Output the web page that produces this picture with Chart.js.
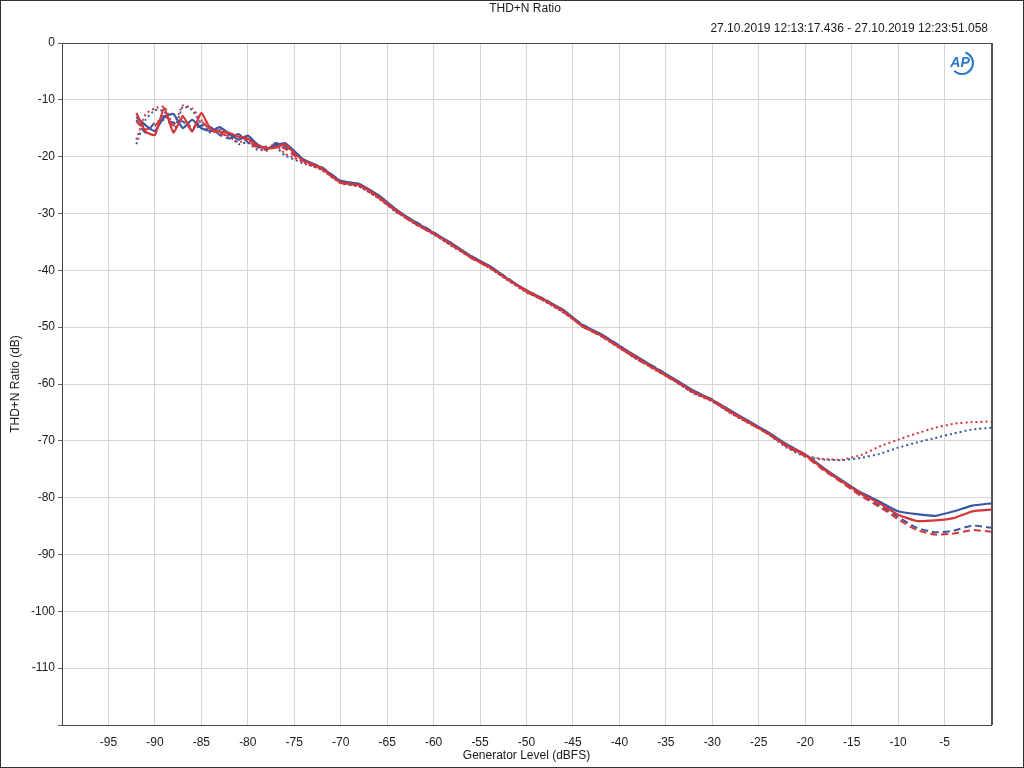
<!DOCTYPE html>
<html>
<head>
<meta charset="utf-8">
<script src="https://cdn.jsdelivr.net/npm/chart.js@4/dist/chart.umd.min.js"></script>
<style>
  body { margin: 0; background: #fff; }
  #wrap { width: 1024px; height: 768px; }
</style>
</head>
<body>
<div id="wrap"><canvas id="myChart" width="1024" height="768"></canvas></div>
<script>
// generator levels (dBFS)
var levels = [-92,-91,-90,-89,-88,-87,-86,-85,-84,-83,-82,-81,-80,-79,-78,-77,-76,-75,-74,
  -72,-70,-68,-66,-64,-62,-60,-58,-56,-54,-52,-50,-48,-46,-44,-42,-40,-38,-36,-34,-32,-30,-28,-26,-24,
  -22,-20,-18,-16,-14,-12,-10,-8,-6,-4,-2,0];

// THD+N ratio (dB)
var blueSolid = [-13.0,-14.5,-15.5,-13.0,-12.5,-15.0,-13.5,-15.0,-15.5,-14.8,-16.0,-17.0,-16.3,-17.8,-18.6,-18.0,-17.6,-19.0,-20.5,
  -22.0,-24.3,-24.8,-26.7,-29.3,-31.5,-33.4,-35.3,-37.5,-39.2,-41.5,-43.5,-45.2,-47.0,-49.6,-51.2,-53.3,-55.3,-57.3,-59.2,-61.2,-62.8,-64.7,-66.6,-68.5,
  -70.6,-72.4,-74.8,-77.0,-79.1,-80.7,-82.4,-82.9,-83.2,-82.4,-81.4,-81.0];
var redSolid = [-12.3,-15.6,-16.2,-11.4,-15.8,-12.8,-15.6,-12.3,-15.2,-15.6,-15.8,-16.5,-16.8,-18.0,-18.5,-18.4,-17.8,-19.4,-20.7,
  -22.1,-24.5,-25.0,-27.0,-29.5,-31.7,-33.5,-35.5,-37.7,-39.4,-41.6,-43.6,-45.3,-47.2,-49.8,-51.4,-53.5,-55.5,-57.5,-59.4,-61.4,-62.9,-64.9,-66.8,-68.7,
  -70.8,-72.5,-75.0,-77.2,-79.3,-81.0,-83.0,-84.1,-84.0,-83.6,-82.4,-82.1];
var blueDashed = [-13.5,-15.8,-14.0,-13.5,-14.0,-13.8,-15.3,-14.5,-14.8,-16.2,-16.8,-16.0,-17.5,-18.2,-18.8,-17.6,-18.2,-19.6,-20.6,
  -21.9,-24.2,-24.9,-26.8,-29.6,-31.4,-33.3,-35.6,-37.4,-39.3,-41.4,-43.7,-45.1,-47.3,-49.5,-51.3,-53.2,-55.6,-57.2,-59.3,-61.5,-62.7,-64.9,-66.7,-68.7,
  -70.9,-72.6,-75.0,-77.3,-79.6,-81.4,-83.4,-85.3,-86.1,-85.8,-84.9,-85.3];
var redDashed = [-13.8,-15.2,-14.6,-12.8,-14.5,-13.2,-15.0,-13.8,-15.4,-15.9,-16.4,-16.3,-17.2,-18.4,-18.2,-17.9,-18.6,-19.8,-20.8,
  -22.2,-24.6,-25.1,-27.1,-29.7,-31.8,-33.6,-35.4,-37.8,-39.5,-41.5,-43.8,-45.4,-47.1,-49.9,-51.5,-53.6,-55.7,-57.6,-59.5,-61.3,-63.0,-65.0,-66.9,-68.8,
  -71.0,-72.7,-75.2,-77.4,-79.7,-81.6,-83.8,-85.7,-86.5,-86.3,-85.7,-86.0];
var blueDotted = [-17.8,-13.5,-11.8,-12.0,-15.5,-11.2,-11.8,-14.2,-15.8,-15.3,-16.2,-17.8,-17.5,-18.8,-18.6,-18.3,-19.8,-20.5,-21.2,
  -22.3,-24.6,-25.3,-27.2,-29.8,-31.7,-33.7,-35.7,-37.6,-39.6,-41.7,-43.7,-45.5,-47.4,-49.8,-51.5,-53.6,-55.8,-57.5,-59.6,-61.6,-63.1,-65.1,-66.9,-68.8,
  -71.2,-72.8,-73.3,-73.4,-73.0,-72.3,-71.2,-70.3,-69.5,-68.7,-68.0,-67.7];
var redDotted = [-17.0,-12.5,-11.5,-11.2,-14.5,-11.0,-11.5,-13.5,-15.5,-15.0,-16.5,-17.5,-17.0,-18.5,-19.0,-18.0,-19.5,-20.2,-21.0,
  -22.4,-24.7,-25.2,-27.3,-29.6,-31.9,-33.6,-35.8,-37.7,-39.5,-41.8,-43.9,-45.4,-47.5,-49.7,-51.6,-53.7,-55.7,-57.7,-59.5,-61.7,-63.0,-65.2,-67.0,-68.5,
  -71.0,-72.6,-73.2,-73.3,-72.5,-71.0,-69.8,-68.7,-67.7,-67.0,-66.7,-66.6];

var title = 'THD+N Ratio';
var subtitle = '27.10.2019 12:13:17.436 - 27.10.2019 12:23:51.058';
var xTitle = 'Generator Level (dBFS)';
var yTitle = 'THD+N Ratio (dB)';

var BLUE = '#3a57a3';
var RED = '#d6363a';
var FONT = '"Liberation Sans", Arial, sans-serif';

function pts(vals){
  return levels.map(function(l, i){ return {x: l, y: vals[i]}; });
}

function line(vals, color, dash, width){
  return {
    data: pts(vals),
    borderColor: color,
    borderWidth: width,
    borderDash: dash,
    pointRadius: 0,
    tension: 0.15,
    fill: false
  };
}

// title, timestamp, frame and logo
var decor = {
  id: 'decor',
  afterDraw: function(chart){
    var c = chart.ctx, a = chart.chartArea;
    c.save();
    c.strokeStyle = '#444';
    c.lineWidth = 1;
    c.strokeRect(a.left + 0.5, a.top + 0.5, a.right - a.left, a.bottom - a.top);
    c.strokeStyle = '#555';
    c.lineWidth = 2;
    c.beginPath();
    c.moveTo(a.right + 1, a.top); c.lineTo(a.right + 1, a.bottom);
    c.stroke();
    c.strokeStyle = '#333';
    c.lineWidth = 1;
    c.strokeRect(0.5, 0.5, 1023, 767);

    c.fillStyle = '#1a1a1a';
    c.font = '12px ' + FONT;
    c.textBaseline = 'middle';
    c.textAlign = 'center';
    c.fillText(title, 525, 9);
    c.textAlign = 'right';
    c.fillText(subtitle, 988, 29);

    // AP logo
    c.strokeStyle = '#2a78c8';
    c.lineWidth = 2;
    c.beginPath();
    c.arc(962, 63, 11, -0.4 * Math.PI, 0.75 * Math.PI);
    c.stroke();
    c.fillStyle = '#2a78c8';
    c.font = 'italic bold 14px ' + FONT;
    c.textAlign = 'center';
    c.fillText('AP', 960, 63);
    c.restore();
  }
};

var ctx = document.getElementById('myChart').getContext('2d');
var myChart = new Chart(ctx, {
  type: 'line',
  data: {
    datasets: [
      line(redSolid, RED, [], 2.2),
      line(blueSolid, BLUE, [], 2.2),
      line(redDashed, RED, [7, 4], 2),
      line(blueDashed, BLUE, [7, 4], 2),
      line(redDotted, RED, [2, 3], 2),
      line(blueDotted, BLUE, [2, 3], 2)
    ]
  },
  plugins: [decor],
  options: {
    responsive: false,
    animation: false,
    layout: { padding: { top: 43, right: 33, left: 0, bottom: 0 } },
    plugins: { legend: { display: false }, tooltip: { enabled: false } },
    scales: {
      x: {
        type: 'linear',
        min: -100, max: 0,
        afterFit: function(s){ s.height = 43; },
        ticks: {
          stepSize: 5,
          color: '#1a1a1a',
          font: { family: FONT, size: 12 },
          padding: 10,
          maxRotation: 0,
          autoSkip: false,
          callback: function(v){ return (v === 0 || v === -100) ? '' : v; }
        },
        grid: { color: '#d6d6d6', drawTicks: false },
        border: { color: '#444' },
        title: {
          display: true, text: xTitle, color: '#1a1a1a',
          font: { family: FONT, size: 12 }, padding: { top: 0, bottom: 5 }
        }
      },
      y: {
        min: -120, max: 0,
        afterFit: function(s){ s.width = 62; },
        ticks: {
          stepSize: 10,
          color: '#1a1a1a',
          font: { family: FONT, size: 12 },
          padding: 3,
          callback: function(v){ return v === -120 ? '' : v; }
        },
        grid: { color: '#d6d6d6', tickLength: 4, tickColor: '#666' },
        border: { color: '#444' },
        title: {
          display: true, text: yTitle, color: '#1a1a1a',
          font: { family: FONT, size: 12 }, padding: { top: 8, bottom: 0 }
        }
      }
    }
  }
});
</script>
</body>
</html>
